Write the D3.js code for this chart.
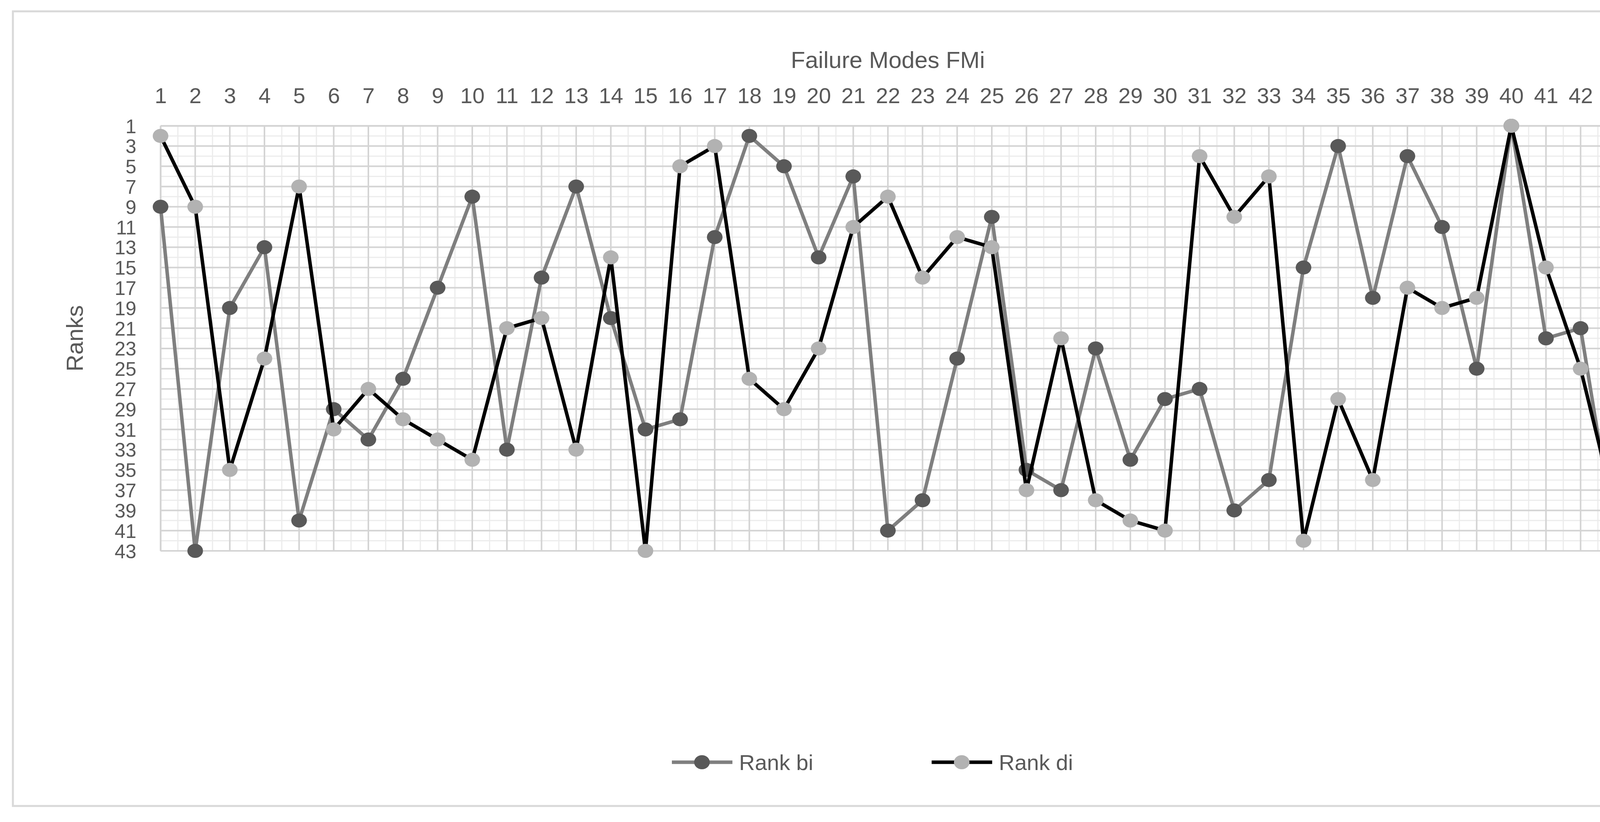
<!DOCTYPE html>
<html><head><meta charset="utf-8">
<script src="https://cdn.jsdelivr.net/npm/d3@7"></script>
<style>html,body{margin:0;padding:0;background:#fff;overflow:hidden}svg{display:block}</style></head>
<body><svg id="c" width="4303" height="2104" viewBox="0 0 4303 2104"></svg>
<script>
const categories = d3.range(1, 44);
const rankBi = [9,43,19,13,40,29,32,26,17,8,33,16,7,20,31,30,12,2,5,14,6,41,38,24,10,35,37,23,34,28,27,39,36,15,3,18,4,11,25,1,22,21,42];
const rankDi = [2,9,35,24,7,31,27,30,32,34,21,20,33,14,43,5,3,26,29,23,11,8,16,12,13,37,22,38,40,41,4,10,6,42,28,36,17,19,18,1,15,25,39];
const yTicks = d3.range(1, 44, 2);

const svg = d3.select("#c");
const font = "'Liberation Sans', Arial, sans-serif";
const tc = "#595959";
svg.append("rect").attr("x",33).attr("y",29).attr("width",4234).attr("height",2034)
  .attr("fill","#fff").attr("stroke","#d9d9d9").attr("stroke-width",5);

const L=411,R=4135,T=322,B=1410;
const x = d3.scaleLinear().domain([1,43]).range([L,R]);
const y = d3.scaleLinear().domain([1,43]).range([T,B]);
const g = svg.append("g");
g.selectAll(".vm").data(d3.range(1,43.01,0.5)).join("line")
  .attr("x1",d=>x(d)).attr("x2",d=>x(d)).attr("y1",T).attr("y2",B)
  .attr("stroke","#ececec").attr("stroke-width",3);
g.selectAll(".hm").data(d3.range(1,44,1)).join("line")
  .attr("y1",d=>y(d)).attr("y2",d=>y(d)).attr("x1",L).attr("x2",R)
  .attr("stroke","#ececec").attr("stroke-width",3);
g.selectAll(".vM").data(categories).join("line")
  .attr("x1",d=>x(d)).attr("x2",d=>x(d)).attr("y1",T).attr("y2",B)
  .attr("stroke","#d4d4d4").attr("stroke-width",4);
g.selectAll(".hM").data(yTicks).join("line")
  .attr("y1",d=>y(d)).attr("y2",d=>y(d)).attr("x1",L).attr("x2",R)
  .attr("stroke","#d4d4d4").attr("stroke-width",4);

const xa = svg.append("g").attr("transform",`translate(0,${T})`)
  .call(d3.axisTop(x).tickValues(categories).tickSize(0).tickPadding(58));
const ya = svg.append("g").attr("transform",`translate(${L},0)`)
  .call(d3.axisLeft(y).tickValues(yTicks).tickSize(0).tickPadding(62));
[xa,ya].forEach(a=>{a.select(".domain").attr("stroke","#d4d4d4").attr("stroke-width",4);
  a.selectAll("text").attr("font-family",font).attr("font-size",56).attr("fill",tc);});
ya.selectAll("text").attr("font-size",50).attr("dy","0.36em");

svg.append("text").attr("x",(L+R)/2).attr("y",174).attr("text-anchor","middle")
  .attr("font-family",font).attr("font-size",60).attr("fill",tc).text("Failure Modes FMi");
svg.append("text").attr("transform","translate(212,866) rotate(-90)").attr("text-anchor","middle")
  .attr("font-family",font).attr("font-size",60).attr("fill",tc).text("Ranks");

const line = d3.line().x((d,i)=>x(categories[i])).y(d=>y(d));
function series(data, lc, mc){
  svg.append("path").datum(data).attr("d",line).attr("fill","none").attr("stroke",lc).attr("stroke-width",9).attr("stroke-linejoin","round");
  svg.append("g").selectAll("ellipse").data(data).join("ellipse")
    .attr("cx",(d,i)=>x(categories[i])).attr("cy",d=>y(d)).attr("rx",20).attr("ry",18).attr("fill",mc);
}
series(rankBi,"#7f7f7f","#595959");
series(rankDi,"#000000","#b2b2b2");

const leg = [{n:"Rank bi",lc:"#7f7f7f",mc:"#595959",x:1720},{n:"Rank di",lc:"#000",mc:"#b2b2b2",x:2385}];
leg.forEach(l=>{
  svg.append("line").attr("x1",l.x).attr("x2",l.x+155).attr("y1",1951).attr("y2",1951).attr("stroke",l.lc).attr("stroke-width",9);
  svg.append("ellipse").attr("cx",l.x+77).attr("cy",1951).attr("rx",20).attr("ry",18).attr("fill",l.mc);
  svg.append("text").attr("x",l.x+172).attr("y",1971).attr("font-family",font).attr("font-size",56).attr("fill",tc).text(l.n);
});
</script></body></html>
